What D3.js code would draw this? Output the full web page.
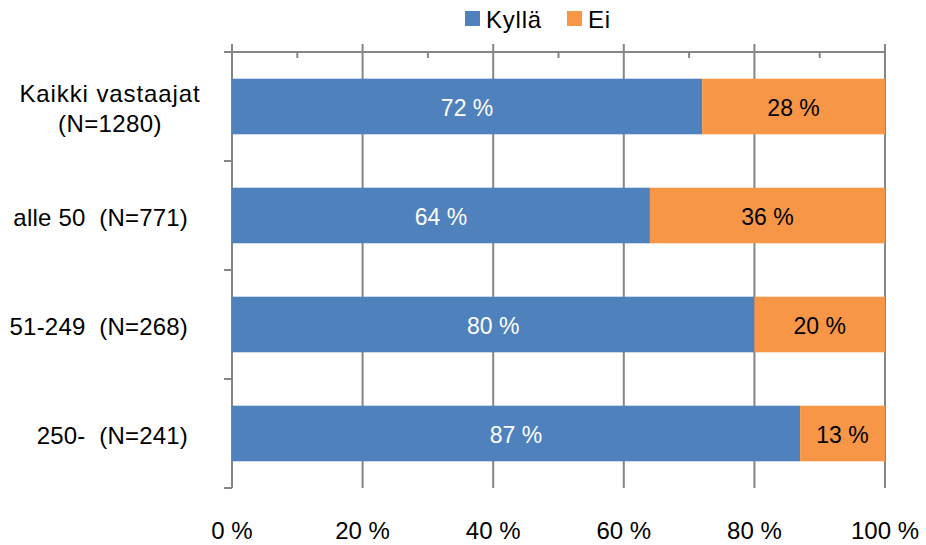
<!DOCTYPE html>
<html><head><meta charset="utf-8">
<script src="https://cdn.jsdelivr.net/npm/d3@7"></script>
<style>
html,body{margin:0;padding:0;background:#fff;}
svg text{font-family:"Liberation Sans",Arial,sans-serif;white-space:pre;}
</style></head>
<body><svg id="c" width="926" height="545"></svg>
<script>
const categories = [["Kaikki vastaajat","(N=1280)"],["alle 50  (N=771)"],["51-249  (N=268)"],["250-  (N=241)"]];
const seriesNames = ["Kyllä","Ei"];
const kylla = [72,64,80,87];
const ei = [28,36,20,13];
const majorTicks = [0,20,40,60,80,100];
const minorTicks = [10,30,50,70,90];

const colors = ["#4F81BD","#F79646"];
const grid = "#868686";
const svg = d3.select("#c");
const x = d3.scaleLinear().domain([0,100]).range([232,885]);
const y = d3.scaleBand().domain(d3.range(categories.length)).range([52,488]).paddingInner(0.49).paddingOuter(0.245);
const yb = d3.scaleBand().domain(d3.range(categories.length)).range([52,488]);

// gridlines
svg.append("g").selectAll("line").data(majorTicks).join("line")
  .attr("x1",d=>x(d)).attr("x2",d=>x(d)).attr("y1",44).attr("y2",488)
  .attr("stroke",grid).attr("stroke-width",2);
// top axis line
svg.append("line").attr("x1",224).attr("x2",x(100)+1).attr("y1",52).attr("y2",52).attr("stroke",grid).attr("stroke-width",2);
// minor ticks
svg.append("g").selectAll("line").data(minorTicks).join("line")
  .attr("x1",d=>x(d)).attr("x2",d=>x(d)).attr("y1",52).attr("y2",58)
  .attr("stroke",grid).attr("stroke-width",2);
// left category ticks
const bounds = d3.range(categories.length+1).map(i=> i<categories.length ? yb(i) : 488);
svg.append("g").selectAll("line").data(bounds).join("line")
  .attr("x1",224).attr("x2",232).attr("y1",d=>d).attr("y2",d=>d)
  .attr("stroke",grid).attr("stroke-width",2);

// bars
const data = categories.map((c,i)=>({i, v:[kylla[i],ei[i]]}));
data.forEach(d=>{
  let start=0;
  d.v.forEach((v,s)=>{
    svg.append("rect").attr("x",x(start)).attr("width",x(start+v)-x(start))
      .attr("y",y(d.i)).attr("height",y.bandwidth()).attr("fill",colors[s]);
    svg.append("text").attr("x",x(start+v/2)).attr("y",y(d.i)+y.bandwidth()/2+9)
      .attr("text-anchor","middle").attr("font-size",23)
      .attr("fill",s===0?"#fff":"#000").text(v+" %");
    start+=v;
  });
});

// category labels
categories.forEach((c,i)=>{
  const cy = yb(i)+yb.bandwidth()/2;
  if(c.length>1){
    c.forEach((line,k)=>{
      svg.append("text").attr("x",110).attr("y",cy-4.5+k*29.5).attr("text-anchor","middle")
        .attr("font-size",24).attr("letter-spacing",k===0?"0.9px":"0.4px").attr("fill","#000").text(line);
    });
  } else {
    svg.append("text").attr("x",188).attr("y",cy+10).attr("text-anchor","end")
      .attr("font-size",24).attr("letter-spacing","0.2px").attr("fill","#000").text(c[0]);
  }
});

// bottom tick labels
svg.append("g").selectAll("text").data(majorTicks).join("text")
  .attr("x",d=>x(d)).attr("y",539).attr("text-anchor","middle").attr("font-size",24)
  .attr("fill","#000").text(d=>d+" %");

// legend
const lx=[465,567];
seriesNames.forEach((n,i)=>{
  svg.append("rect").attr("x",lx[i]).attr("y",11).attr("width",15).attr("height",15).attr("fill",colors[i]);
  svg.append("text").attr("x",lx[i]+21).attr("y",28).attr("font-size",24).attr("letter-spacing","0.8px").attr("fill","#000").text(n);
});
</script></body></html>
